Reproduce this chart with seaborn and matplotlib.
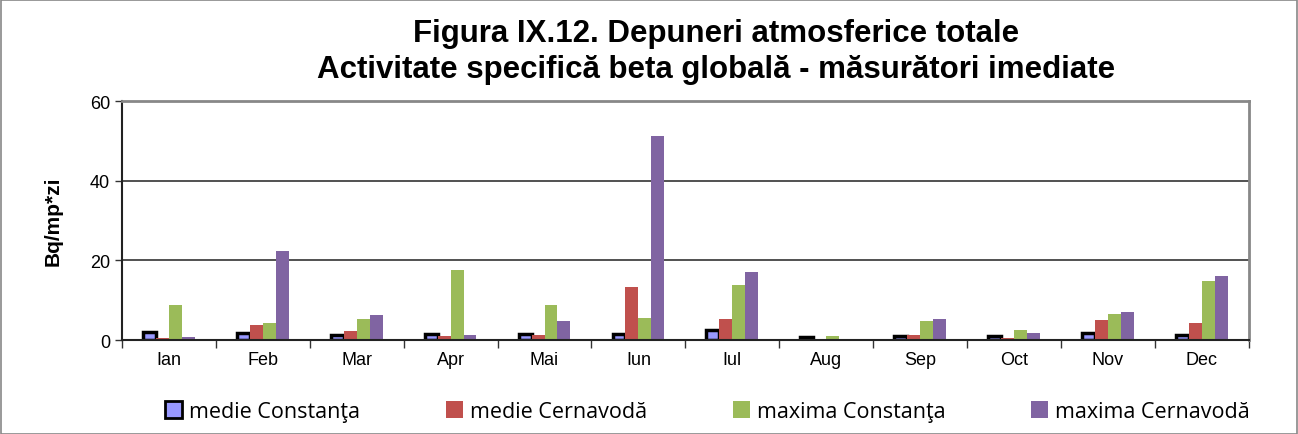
import pandas as pd
import seaborn as sns
import matplotlib.pyplot as plt
from matplotlib.patches import Patch, Rectangle

# date
luni = ['Ian', 'Feb', 'Mar', 'Apr', 'Mai', 'Iun', 'Iul', 'Aug', 'Sep', 'Oct', 'Nov', 'Dec']
medie_constanta = [2.1, 1.7, 1.35, 1.6, 1.4, 1.4, 2.4, 0.75, 1.1, 0.9, 1.85, 1.35]
medie_cernavoda = [0.6, 3.8, 2.3, 1.0, 1.3, 13.4, 5.4, 0.3, 1.35, 0.6, 5.1, 4.3]
maxima_constanta = [8.9, 4.3, 5.3, 17.6, 8.7, 5.6, 13.9, 1.1, 4.7, 2.55, 6.45, 14.8]
maxima_cernavoda = [0.85, 22.4, 6.3, 1.3, 4.7, 51.1, 17.1, 0.3, 5.4, 1.85, 7.0, 16.1]

serii = ['medie Constanţa', 'medie Cernavodă', 'maxima Constanţa', 'maxima Cernavodă']
culori = ['#9999FF', '#C0504D', '#9BBB59', '#8064A2']

data = pd.DataFrame({
    'luna': luni * 4,
    'serie': [s for s in serii for _ in luni],
    'valoare': medie_constanta + medie_cernavoda + maxima_constanta + maxima_cernavoda,
})

sns.set_style('white')
plt.rcParams['font.family'] = ['Liberation Sans', 'DejaVu Sans']
plt.rcParams['text.color'] = 'black'

fig = plt.figure(figsize=(12.98, 4.35), dpi=100)
ax = fig.add_axes([0.094, 0.216, 0.868, 0.5495])

sns.barplot(data=data, x='luna', y='valoare', hue='serie', hue_order=serii,
            palette=culori, width=0.55, gap=0, saturation=1, legend=False,
            ax=ax, linewidth=0)

# prima serie are contur negru gros
for bar in ax.containers[0]:
    bar.set_edgecolor('black')
    bar.set_linewidth(2.5)

ax.set_ylim(0, 60)
ax.set_xlim(-0.5, 11.5)
ax.set_yticks([0, 20, 40, 60])
ax.yaxis.grid(True, color='#333333', linewidth=1.2)
ax.set_axisbelow(True)
ax.set_xlabel('')
ax.set_ylabel('Bq/mp*zi', fontsize=15, fontweight='bold', labelpad=20, color='black')
ax.tick_params(axis='both', labelsize=13, labelcolor='black')
ax.tick_params(axis='y', left=True, length=5, width=1, color='#333333')
ax.set_xticks(range(12))
ax.set_xticks([i + 0.5 for i in range(-1, 12)], minor=True)
ax.tick_params(axis='x', which='major', length=0, pad=8)
ax.tick_params(axis='x', which='minor', length=6, width=1, color='#333333', bottom=True)

for side in ['left', 'bottom']:
    ax.spines[side].set_color('#222222')
    ax.spines[side].set_linewidth(1.5)
for side in ['top', 'right']:
    ax.spines[side].set_color('#888888')
    ax.spines[side].set_linewidth(2)

fig.text(0.552, 0.922, 'Figura IX.12. Depuneri atmosferice totale',
         ha='center', va='center', fontsize=22.5, fontweight='bold', color='black')
fig.text(0.552, 0.838, 'Activitate specifică beta globală - măsurători imediate',
         ha='center', va='center', fontsize=22.5, fontweight='bold', color='black')

handles = [Patch(facecolor=culori[0], edgecolor='black', linewidth=2)] + \
          [Patch(facecolor=c, edgecolor='none') for c in culori[1:]]
fig.legend(handles, serii, loc='center', bbox_to_anchor=(0.545, 0.052), ncol=4,
           frameon=False, handlelength=0.8, handleheight=0.8,
           handletextpad=0.3, columnspacing=4.0, prop={'family': 'Open Sans', 'size': 15.5})

# chenarul graficului
fig.patches.append(Rectangle((0.001, 0.001), 0.998, 0.997, transform=fig.transFigure,
                             fill=False, edgecolor='#888888', linewidth=1.2))

plt.savefig('out.png', dpi=100)
